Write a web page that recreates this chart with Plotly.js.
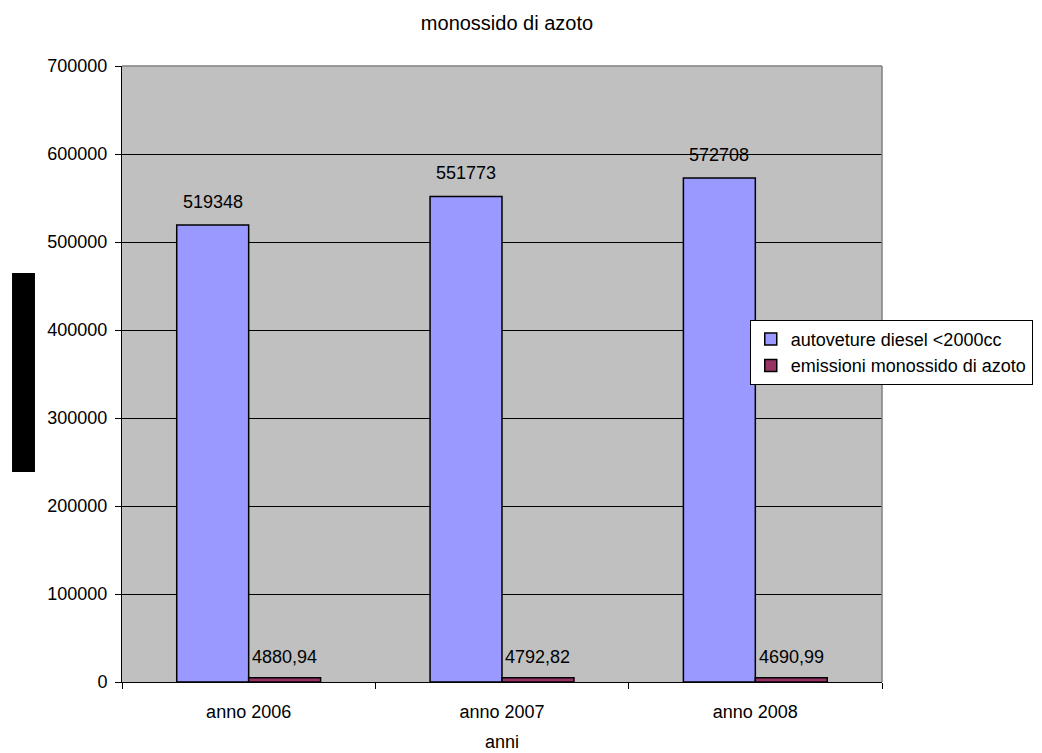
<!DOCTYPE html>
<html>
<head>
<meta charset="utf-8">
<script src="https://cdn.plot.ly/plotly-3.0.1.min.js"></script>
<style>
  html, body { margin: 0; padding: 0; background: #ffffff; }
  #chart { width: 1042px; height: 753px; }
</style>
</head>
<body>
<div id="chart"></div>
<script>
// Categorie (anni) e serie
const anni = ['anno 2006', 'anno 2007', 'anno 2008'];
const autovetureDiesel = [519348, 551773, 572708];
const emissioniNO = [4880.94, 4792.82, 4690.99];
const yTicks = [0, 100000, 200000, 300000, 400000, 500000, 600000, 700000];

// Etichette con virgola decimale
const fmt = v => String(v).replace('.', ',');

const FONT = 'Liberation Sans, Arial, sans-serif';
const FS = 18;
const BARGAP = 0.432;
// metà larghezza di una barra, in unità di categoria
const half = (1 - BARGAP) / 4;

const traces = [
  {
    type: 'bar',
    name: 'autoveture diesel <2000cc',
    x: anni,
    y: autovetureDiesel,
    marker: { color: '#9999FF', line: { color: '#000000', width: 1.5 } }
  },
  {
    type: 'bar',
    name: 'emissioni monossido di azoto',
    x: anni,
    y: emissioniNO,
    marker: { color: '#993366', line: { color: '#000000', width: 1.5 } }
  }
];

// Etichette dei valori sopra le barre
const annotations = [];
anni.forEach((a, i) => {
  annotations.push({
    xref: 'x', yref: 'y', x: i - half, y: autovetureDiesel[i],
    text: fmt(autovetureDiesel[i]), showarrow: false,
    xanchor: 'center', yanchor: 'bottom', yshift: 11,
    font: { family: FONT, size: FS, color: '#000000' }
  });
  annotations.push({
    xref: 'x', yref: 'y', x: i + half, y: emissioniNO[i],
    text: fmt(emissioniNO[i]), showarrow: false,
    xanchor: 'center', yanchor: 'bottom', yshift: 9,
    font: { family: FONT, size: FS, color: '#000000' }
  });
});

const layout = {
  width: 1042,
  height: 753,
  margin: { l: 122, r: 160, t: 66, b: 71, autoexpand: false },
  paper_bgcolor: '#ffffff',
  plot_bgcolor: '#C0C0C0',
  font: { family: FONT, size: FS, color: '#000000' },
  title: {
    text: 'monossido di azoto',
    font: { family: FONT, size: 20, color: '#000000' },
    xref: 'paper', x: 0.5066, xanchor: 'center',
    y: 0.97, yanchor: 'middle'
  },
  barmode: 'group',
  bargap: BARGAP,
  bargroupgap: 0,
  showlegend: true,
  legend: {
    x: 0.826, xanchor: 'left',
    y: 0.588, yanchor: 'top',
    bgcolor: '#ffffff',
    bordercolor: '#000000',
    borderwidth: 1,
    font: { family: FONT, size: 18, color: '#000000' },
    itemwidth: 30,
    tracegroupgap: 0
  },
  xaxis: {
    type: 'category',
    range: [-0.5, 2.5],
    tickson: 'boundaries',
    ticks: 'outside',
    ticklen: 6,
    tickcolor: '#000000',
    showline: true,
    linecolor: '#000000',
    linewidth: 1,
    showgrid: false,
    zeroline: false,
    ticklabelstandoff: 13,
    tickfont: { family: FONT, size: FS, color: '#000000' },
    title: { text: 'anni', font: { family: FONT, size: FS, color: '#000000' }, standoff: 14 }
  },
  yaxis: {
    range: [0, 700000],
    tickvals: yTicks,
    ticktext: yTicks.map(String),
    ticks: 'outside',
    ticklen: 6,
    tickcolor: '#000000',
    showline: true,
    linecolor: '#000000',
    linewidth: 1,
    showgrid: true,
    gridcolor: '#000000',
    gridwidth: 1,
    zeroline: false,
    ticklabelstandoff: 4,
    tickfont: { family: FONT, size: FS, color: '#000000' }
  },
  annotations: annotations,
  shapes: [
    // bordo superiore e destro dell'area del grafico
    { type: 'line', xref: 'paper', yref: 'paper', x0: 0, x1: 1, y0: 1, y1: 1,
      line: { color: '#808080', width: 1.5 } },
    { type: 'line', xref: 'paper', yref: 'paper', x0: 1, x1: 1, y0: 0, y1: 1,
      line: { color: '#808080', width: 1.5 } },
    // riquadro del titolo dell'asse verticale
    { type: 'rect', xref: 'paper', yref: 'paper',
      x0: -0.1447, x1: -0.1145, y0: 0.341, y1: 0.664,
      fillcolor: '#000000', line: { width: 0 } }
  ]
};

Plotly.newPlot('chart', traces, layout, { displayModeBar: false, staticPlot: true });
</script>
</body>
</html>
